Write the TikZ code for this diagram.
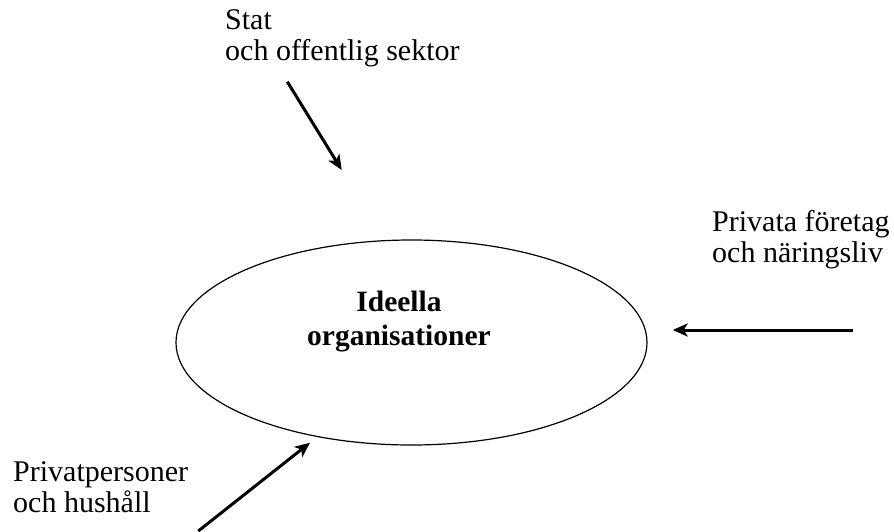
\documentclass[tikz,border=0pt]{standalone}
\usepackage{fontspec}
\setmainfont{Liberation Serif}
\usetikzlibrary{arrows.meta,shapes.geometric}
\begin{document}
\begin{tikzpicture}[x=1pt,y=-1pt,
  lbl/.style={anchor=base west, align=left, inner sep=0pt, font=\fontsize{30}{31}\selectfont},
  flow/.style={line width=3pt, -{Stealth[length=15pt,width=13pt,inset=4pt]}},
  orgshape/.style={ellipse, draw, line width=1.2pt, minimum width=471pt, minimum height=205pt, inner sep=0pt}]
\useasboundingbox (0,0) rectangle (894,531);
\node[orgshape] (org) at (411.5,342.5) {};
\node[anchor=base, align=center, inner sep=0pt, font=\fontsize{29.5}{34}\selectfont\bfseries] (orgtext) at (399,345) {Ideella\\organisationer};
\node[lbl] (stat) at (225,60) {Stat\\och offentlig sektor};
\node[lbl] (foretag) at (712,262) {Privata företag\\och näringsliv};
\node[lbl] (privat) at (13,512) {Privatpersoner\\och hushåll};
\coordinate (a1s) at (287.3,81.7);
\coordinate (a1e) at (341.7,170);
\coordinate (a2s) at (852.7,330);
\coordinate (a2e) at (672.7,330);
\coordinate (a3s) at (198.3,531);
\coordinate (a3e) at (310,442.7);
\draw[flow] (a1s) -- (a1e);
\draw[flow] (a2s) -- (a2e);
\draw[flow] (a3s) -- (a3e);
\end{tikzpicture}
\end{document}
